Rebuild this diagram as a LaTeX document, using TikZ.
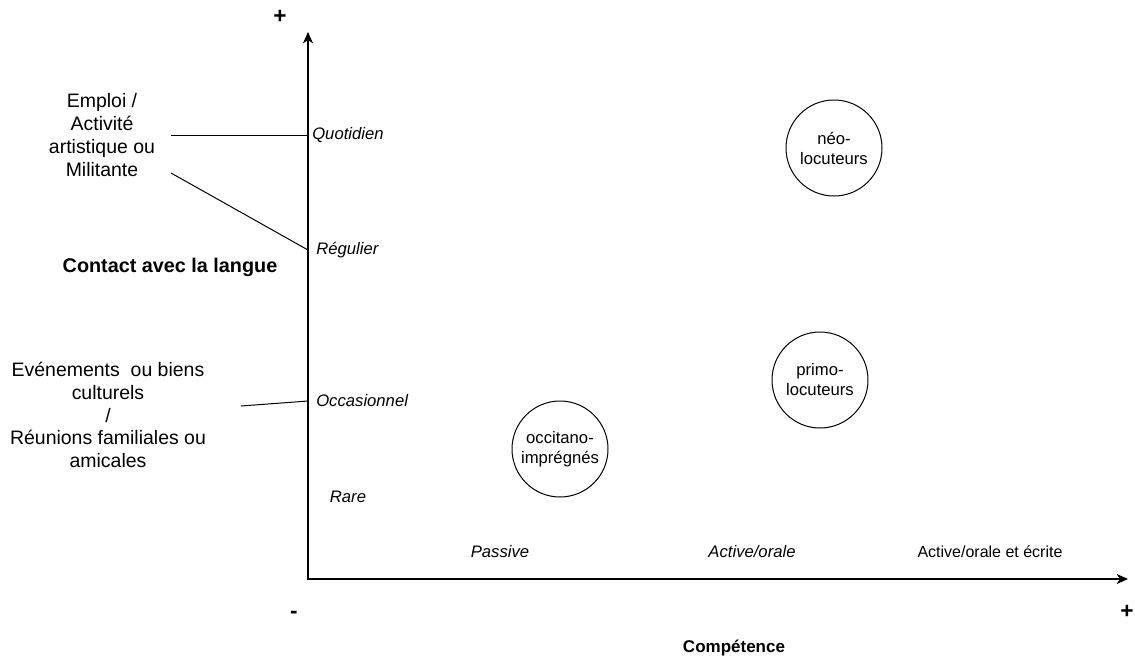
\documentclass[tikz,border=0pt]{standalone}
\usepackage{fontspec}
\setmainfont{Liberation Sans}
\usetikzlibrary{arrows.meta, positioning}
\tikzset{
  axis/.style={{Stealth[length=8.5pt, width=7.5pt, inset=2.5pt]}-{Stealth[length=8.5pt, width=7.5pt, inset=2.5pt]}, line width=0.8pt},
  link/.style={line width=0.75pt},
  level/.style={font=\fontsize{12.5}{15}\selectfont\itshape, inner sep=0pt},
  gradelabel/.style={font=\fontsize{12}{14}\selectfont, inner sep=0pt},
  note/.style={align=center, font=\fontsize{14.6}{17.1}\selectfont, inner sep=0pt},
  group/.style={
    circle,
    draw,
    line width=0.75pt,
    minimum size=72pt,
    align=center,
    inner sep=0pt,
    font=\fontsize{12.5}{15}\selectfont
  },
  sign/.style={font=\bfseries\fontsize{17}{17}\selectfont, inner sep=0pt},
  heading/.style={inner sep=0pt}
}

\begin{document}
\begin{tikzpicture}[x=0.75pt, y=-0.75pt]
  \useasboundingbox (0,0) rectangle (1135,661);

  % axes
  \coordinate (origin) at (308,579);
  \coordinate (ytop) at (308,32);
  \coordinate (xend) at (1128,579);
  \draw[axis] (ytop) -- (origin) -- (xend);

  \node[sign] (yplus) at (280,17) {+};
  \node[sign] (minus) at (294,615) {-};
  \node[sign] (xplus) at (1127,612) {+};

  % contact levels
  \node[level, anchor=west] (quot) at (312,135) {Quotidien};
  \node[level, anchor=west] (regu) at (316,250) {Régulier};
  \node[level, anchor=west] (occa) at (316,401) {Occasionnel};
  \node[level] (rare) at (348,497) {Rare};

  \node[heading, font=\bfseries\fontsize{14.85}{17}\selectfont] (contact)
        at (170,267) {Contact avec la langue};

  % competence levels
  \node[level] (passive) at (500,552) {Passive};
  \node[level] (orale) at (752,552) {Active/orale};
  \node[gradelabel] (ecrite) at (990,552) {Active/orale et écrite};

  \node[heading, font=\bfseries\fontsize{12.75}{15}\selectfont] (competence)
        at (734,648) {Compétence};

  % contexts
  \node[note] (emploi) at (102,135)
        {Emploi /\\Activité\\artistique ou\\Militante};
  \node[note] (evts) at (108,415)
        {Evénements\ \ ou biens\\culturels\\/\\Réunions familiales ou\\amicales};

  \coordinate (yquot) at (308,135);
  \coordinate (yregu) at (308,250);
  \coordinate (yocca) at (308,401);
  \coordinate (emp1) at (171,135);
  \coordinate (emp2) at (171,173);
  \coordinate (evt) at (241,406);

  \draw[link] (emp1) -- (yquot);
  \draw[link] (emp2) -- (yregu);
  \draw[link] (evt) -- (yocca);

  % speakers
  \node[group] (neo) at (834,148) {néo-\\locuteurs};
  \node[group] (primo) at (820,380) {primo-\\locuteurs};
  \node[group] (occit) at (560,449) {occitano-\\imprégnés};
\end{tikzpicture}
\end{document}
